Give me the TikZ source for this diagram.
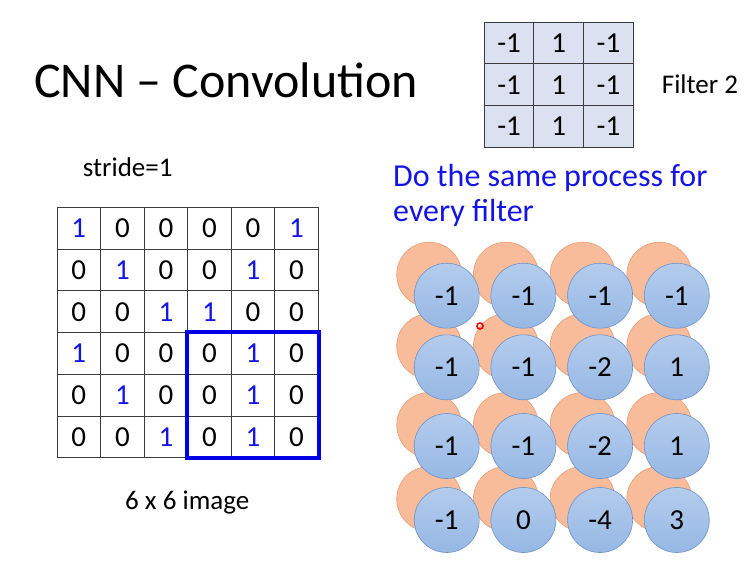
\documentclass[tikz,border=0pt]{standalone}
\usepackage{fontspec}
\setmainfont{Carlito}
\usepackage{xcolor}
\definecolor{cnnblue}{RGB}{20,20,230}
\definecolor{cnnbox}{RGB}{0,0,230}
\definecolor{cnngrid}{RGB}{60,60,60}
\definecolor{cnnfilter}{RGB}{220,225,242}
\definecolor{cnnorange}{RGB}{248,188,155}
\definecolor{cnnorangedraw}{RGB}{232,155,115}
\definecolor{cnncirctop}{RGB}{180,204,237}
\definecolor{cnncircbot}{RGB}{150,184,228}
\definecolor{cnncircdraw}{RGB}{110,145,200}
\usetikzlibrary{positioning}
\newcommand{\mval}[1]{\ifnum#1=1 \textcolor{cnnblue}{1}\else #1\fi}

\begin{document}
\begin{tikzpicture}[
  x=1pt, y=-1pt,
  txt/.style={anchor=base west, inner sep=0pt, font=\fontsize{27}{32}\selectfont},
  cell/.style={rectangle, draw=cnngrid, line width=0.9pt, minimum width=43.55pt,
               minimum height=41.75pt, inner sep=0pt, font=\fontsize{29}{34}\selectfont},
  fcell/.style={cell, fill=cnnfilter, minimum width=49.67pt, minimum height=41.77pt},
  backcirc/.style={circle, minimum size=65pt, inner sep=0pt, fill=cnnorange,
                   draw=cnnorangedraw, line width=0.6pt},
  outcirc/.style={circle, minimum size=65pt, inner sep=0pt, top color=cnncirctop,
                  bottom color=cnncircbot, draw=cnncircdraw, line width=0.6pt,
                  font=\fontsize{29}{34}\selectfont},
  window/.style={draw=cnnbox, line width=4pt}
]
  \useasboundingbox (0,0) rectangle (751,562);
  % Title
  \node[txt, font=\fontsize{50}{60}\selectfont] (title) at (34,97) {CNN -- Convolution};
  % Filter 2
  \foreach \row [count=\i from 0] in {{-1,1,-1},{-1,1,-1},{-1,1,-1}} {
    \foreach \v [count=\j from 0] in \row {
      \node[fcell] (f-\i-\j) at ({509.1+49.67*\j},{42.9+41.77*\i}) {\v};
    }
  }
  \node[txt] (flabel) at (661.7,93.3) {Filter 2};
  % Image
  \node[txt] (stride) at (82.7,176.7) {stride=1};
  \foreach \row [count=\i from 0] in {{1,0,0,0,0,1},{0,1,0,0,1,0},{0,0,1,1,0,0},
                                       {1,0,0,0,1,0},{0,1,0,0,1,0},{0,0,1,0,1,0}} {
    \foreach \v [count=\j from 0] in \row {
      \node[cell] (m-\i-\j) at ({78.8+43.55*\j},{228.2+41.75*\i}) {\mval{\v}};
    }
  }
  \draw[window] (m-3-3.north west) rectangle (m-5-5.south east);
  \node[txt] (caption) at (125,509) {6 x 6 image};
  % Feature maps
  \node[txt, text=cnnblue, font=\fontsize{32}{38}\selectfont] (note1) at (393,186) {Do the same process for};
  \node[txt, text=cnnblue, font=\fontsize{32}{38}\selectfont] (note2) at (393,221) {every filter};
  \foreach \yy [count=\i] in {295.7,367.3,446,520} {
    \foreach \j in {0,...,3} {
      \node[backcirc] (o-\i-\j) at ({429.2+76.7*\j},{\yy-21}) {};
    }
  }
  \foreach \yy/\vals [count=\i] in {295.7/{-1,-1,-1,-1},367.3/{-1,-1,-2,1},
                                     446/{-1,-1,-2,1},520/{-1,0,-4,3}} {
    \foreach \v [count=\j from 0] in \vals {
      \node[outcirc] (c-\i-\j) at ({446.7+76.7*\j},\yy) {\v};
    }
  }
  % pointer
  \node[circle, draw=red, line width=1.6pt, minimum size=6pt, inner sep=0pt] (dot) at (480,326) {};
\end{tikzpicture}
\end{document}
